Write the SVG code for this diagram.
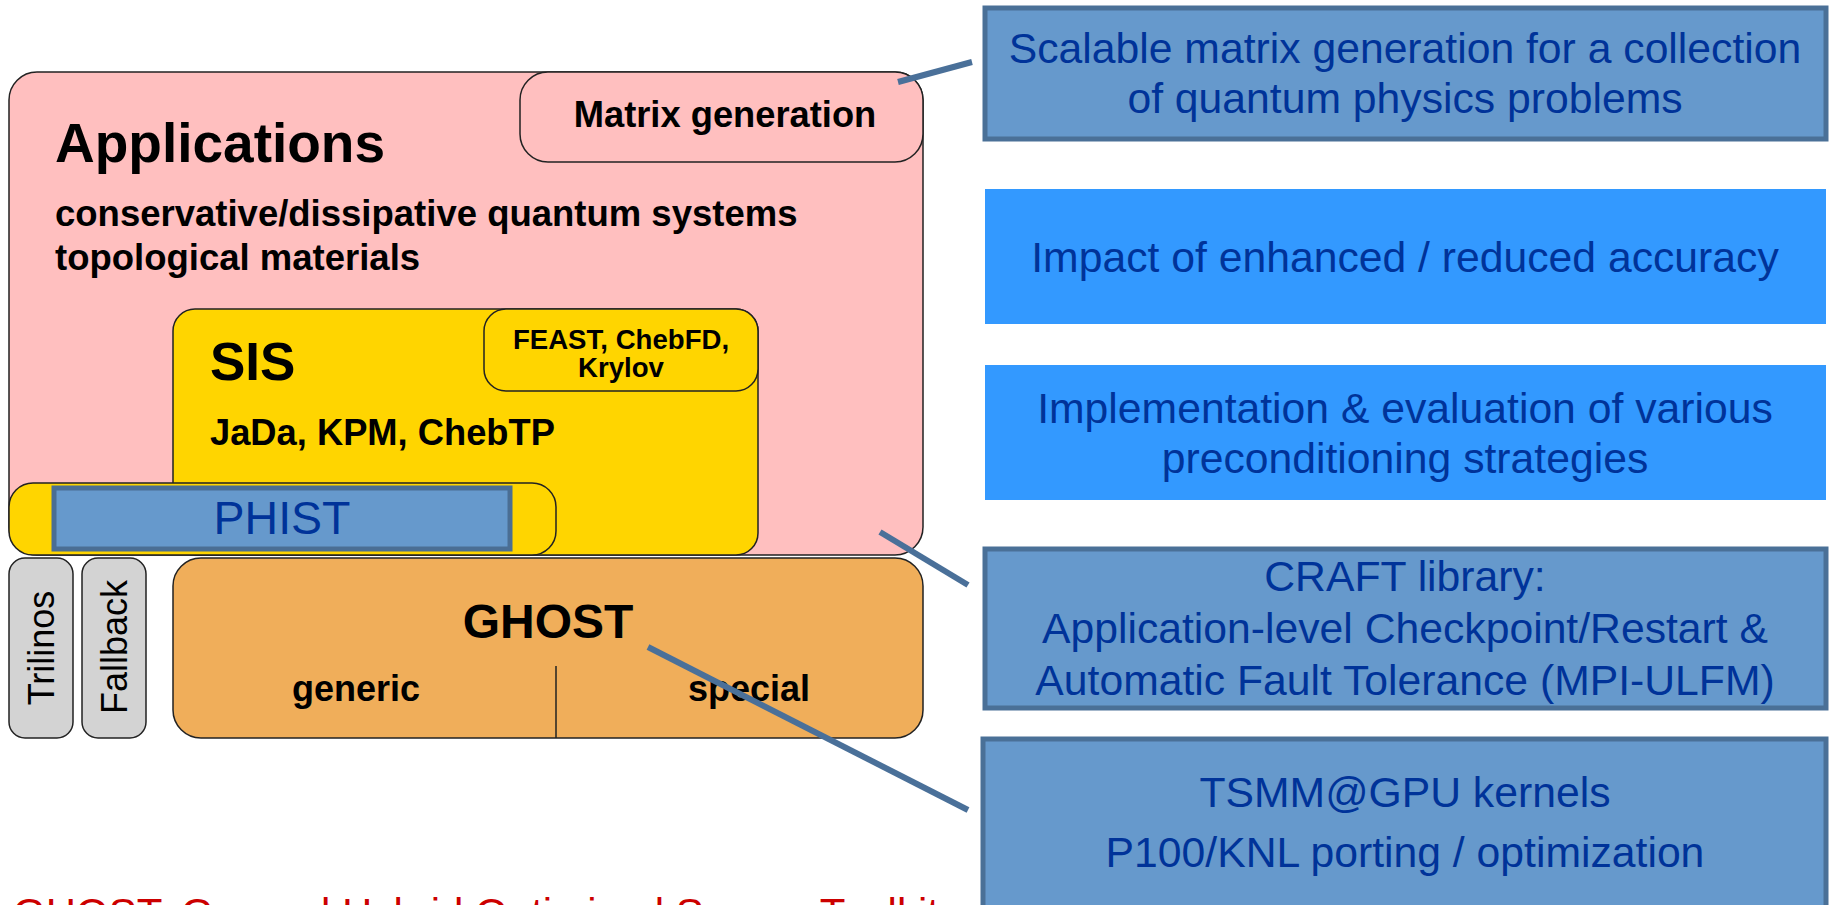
<svg xmlns="http://www.w3.org/2000/svg" width="1829" height="905" viewBox="0 0 1829 905">
<style>
.box{stroke:#222;stroke-width:1.5}
.b{font-family:"Liberation Sans",Arial,sans-serif;font-weight:bold;fill:#000}
.r{font-family:"Liberation Sans",Arial,sans-serif;fill:#000}
.bl{font-family:"Liberation Sans",Arial,sans-serif;fill:#003399;font-size:42.7px;text-anchor:middle}
.sbox{fill:#6699cc;stroke:#4a7097;stroke-width:5}
.bbox{fill:#3399ff}
.conn{stroke:#4a7099;stroke-width:6;fill:none}
</style>
<rect width="1829" height="905" fill="#fff"/>
<g id="applications">
<rect class="box" x="9" y="72" width="914" height="483" rx="28" fill="#ffbfbf"/>
<text class="b" x="55" y="162" font-size="55">Applications</text>
<text class="b" x="55" y="226" font-size="36.5">conservative/dissipative quantum systems</text>
<text class="b" x="55" y="270" font-size="36.5">topological materials</text>
</g>
<g id="matrix-generation">
<rect class="box" x="520" y="72" width="403" height="90" rx="28" fill="#ffbfbf"/>
<text class="b" x="725" y="127" font-size="36.3" text-anchor="middle">Matrix generation</text>
</g>
<g id="sis">
<rect class="box" x="173" y="309" width="585" height="246" rx="22" fill="#ffd500"/>
<text class="b" x="210" y="380" font-size="53">SIS</text>
<text class="b" x="210" y="445" font-size="36.3">JaDa, KPM, ChebTP</text>
</g>
<g id="feast">
<rect class="box" x="484" y="309" width="274" height="82" rx="22" fill="#ffd500"/>
<text class="b" x="621" y="349" font-size="27.6" text-anchor="middle">FEAST, ChebFD,</text>
<text class="b" x="621" y="377" font-size="27.6" text-anchor="middle">Krylov</text>
</g>
<g id="phist">
<rect class="box" x="9" y="483" width="547" height="72" rx="24" fill="#ffd500"/>
<rect x="54" y="488" width="456" height="61" fill="#6699cc" stroke="#4a6e94" stroke-width="5"/>
<text x="282" y="534" font-size="46.5" text-anchor="middle" font-family="Liberation Sans, Arial, sans-serif" fill="#003399">PHIST</text>
</g>
<g id="trilinos">
<rect class="box" x="9" y="558" width="64" height="180" rx="16" fill="#d3d3d3"/>
<text class="r" transform="translate(54,648) rotate(-90)" font-size="36" text-anchor="middle">Trilinos</text>
</g>
<g id="fallback">
<rect class="box" x="82" y="558" width="64" height="180" rx="16" fill="#d3d3d3"/>
<text class="r" transform="translate(127,647) rotate(-90)" font-size="36" text-anchor="middle">Fallback</text>
</g>
<g id="ghost">
<rect class="box" x="173" y="558" width="750" height="180" rx="28" fill="#f0ae5a"/>
<line x1="556" y1="666" x2="556" y2="738" stroke="#222" stroke-width="1.5"/>
<text class="b" x="548" y="638" font-size="48" text-anchor="middle">GHOST</text>
<text class="b" x="356" y="701" font-size="36" text-anchor="middle">generic</text>
<text class="b" x="749" y="701" font-size="36" text-anchor="middle">special</text>
</g>
<g id="scalable">
<rect class="sbox" x="985" y="8" width="841" height="131"/>
<text class="bl" x="1405" y="63">Scalable matrix generation for a collection</text>
<text class="bl" x="1405" y="113">of quantum physics problems</text>
</g>
<g id="impact">
<rect class="bbox" x="985" y="189" width="841" height="135"/>
<text class="bl" x="1405" y="272">Impact of enhanced / reduced accuracy</text>
</g>
<g id="implementation">
<rect class="bbox" x="985" y="365" width="841" height="135"/>
<text class="bl" x="1405" y="423">Implementation &amp; evaluation of various</text>
<text class="bl" x="1405" y="473">preconditioning strategies</text>
</g>
<g id="craft">
<rect class="sbox" x="985" y="549" width="841" height="159"/>
<text class="bl" x="1405" y="591">CRAFT library:</text>
<text class="bl" x="1405" y="643">Application-level Checkpoint/Restart &amp;</text>
<text class="bl" x="1405" y="695">Automatic Fault Tolerance (MPI-ULFM)</text>
</g>
<g id="tsmm">
<rect class="sbox" x="983" y="739" width="843" height="175"/>
<text class="bl" x="1405" y="807">TSMM@GPU kernels</text>
<text class="bl" x="1405" y="867">P100/KNL porting / optimization</text>
</g>
<g id="connectors">
<line class="conn" x1="898" y1="82" x2="972" y2="62"/>
<line class="conn" x1="880" y1="532" x2="968" y2="585"/>
<line class="conn" x1="648" y1="647" x2="968" y2="810"/>
</g>
<g id="footer">
<text x="13" y="928" font-size="42" font-family="Liberation Sans, Arial, sans-serif" fill="#cc0000">GHOST: General Hybrid Optimized Sparse Toolkit</text>
</g>
</svg>
